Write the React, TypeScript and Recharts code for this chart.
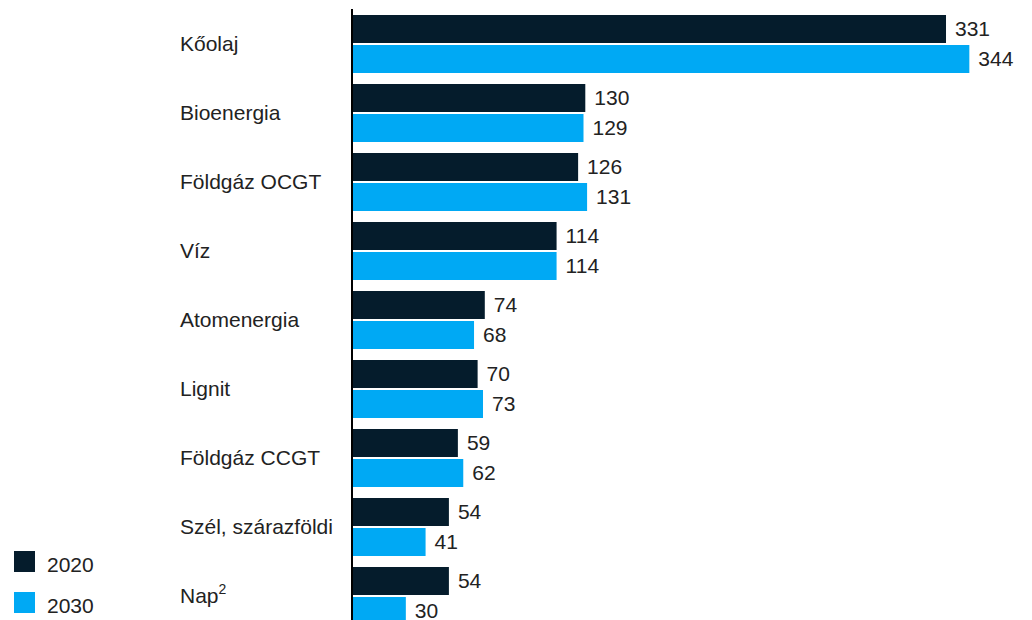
import React from "react";
import { BarChart, Bar, XAxis, YAxis, LabelList } from "recharts";

const categories = ["Kőolaj", "Bioenergia", "Földgáz OCGT", "Víz", "Atomenergia", "Lignit", "Földgáz CCGT", "Szél, szárazföldi", "Nap"];
const values2020 = [331, 130, 126, 114, 74, 70, 59, 54, 54];
const values2030 = [344, 129, 131, 114, 68, 73, 62, 41, 30];
const seriesNames = ["2020", "2030"];
const superscripts: Record<string, string> = { Nap: "2" };

const data = categories.map((c, i) => ({ name: c, v2020: values2020[i], v2030: values2030[i] }));

const DARK = "#051C2C";
const BLUE = "#00A9F4";
const FONT = "'Liberation Sans', Arial, Helvetica, sans-serif";

const CategoryTick = (props: any) => {
  const { y, payload } = props;
  const sup = superscripts[payload.value];
  return (
    <text x={180} y={y} dy={7} textAnchor="start" fontSize={21} fill="#222" fontFamily={FONT}>
      {payload.value}
      {sup ? (
        <tspan fontSize={14} dy={-9}>{sup}</tspan>
      ) : null}
    </text>
  );
};

export default function App() {
  return (
    <div style={{ position: "absolute", left: 0, top: 0, width: 1032, height: 620, overflow: "hidden", background: "#fff", fontFamily: FONT }}>
      <BarChart
        width={1032}
        height={630}
        data={data}
        layout="vertical"
        margin={{ top: 9, right: 16, bottom: 0, left: 0 }}
        barCategoryGap={6}
        barGap={2}
      >
        <XAxis type="number" domain={[0, 370]} hide />
        <YAxis
          type="category"
          dataKey="name"
          width={352}
          axisLine={{ stroke: "#000", strokeWidth: 2 }}
          tickLine={false}
          tick={<CategoryTick />}
          interval={0}
        />
        <Bar dataKey="v2020" name={seriesNames[0]} fill={DARK} isAnimationActive={false}>
          <LabelList dataKey="v2020" position="right" offset={9} fill="#222" fontSize={21} fontFamily={FONT} />
        </Bar>
        <Bar dataKey="v2030" name={seriesNames[1]} fill={BLUE} isAnimationActive={false}>
          <LabelList dataKey="v2030" position="right" offset={9} fill="#222" fontSize={21} fontFamily={FONT} />
        </Bar>
      </BarChart>
      {seriesNames.map((s, i) => (
        <div key={s} style={{ position: "absolute", left: 14, top: 551 + i * 41, display: "flex", alignItems: "center" }}>
          <div style={{ width: 21, height: 21, background: i === 0 ? DARK : BLUE }} />
          <span style={{ marginLeft: 12, fontSize: 21, color: "#222", lineHeight: "21px", position: "relative", top: 3 }}>{s}</span>
        </div>
      ))}
    </div>
  );
}
